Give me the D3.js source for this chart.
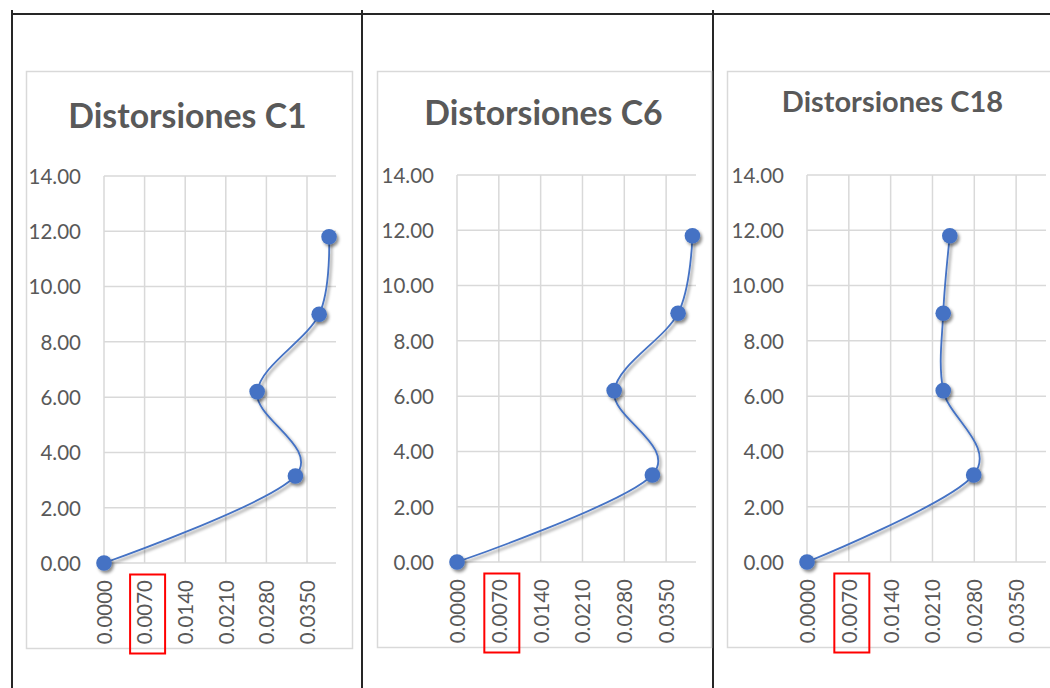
<!DOCTYPE html>
<html>
<head>
<meta charset="utf-8">
<script src="https://cdn.jsdelivr.net/npm/d3@7"></script>
<style>
  html, body { margin: 0; padding: 0; background: #fff; }
  svg { display: block; }
  .tick text { font-family: Lato, "Open Sans", sans-serif; fill: #595959; }
  .title { font-family: Lato, "Open Sans", sans-serif; font-weight: 700; fill: #595959; }
</style>
</head>
<body>
<svg id="chart" width="1050" height="688"></svg>
<script>
// Storey heights (m) shared by the three columns
const heights = [0, 3.15, 6.2, 9.0, 11.8];
// Inter-storey drift per column
const driftC1 = [0, 0.0330, 0.0264, 0.0371, 0.0388];
const driftC6 = [0, 0.0327, 0.0263, 0.0370, 0.0394];
const driftC18 = [0, 0.0279, 0.0228, 0.0228, 0.0239];
const titles = ["Distorsiones C1", "Distorsiones C6", "Distorsiones C18"];
const xTicks = [0, 0.007, 0.014, 0.021, 0.028, 0.035];
const yTicks = [0, 2, 4, 6, 8, 10, 12, 14];
const xMax = 0.04;
const yMax = 14;
const highlightTick = 0.007;

const series = [driftC1, driftC6, driftC18];

// Frame and plot-area geometry of each panel
const panels = [
  { frame: [26, 71, 326, 577], plot: [104, 176, 336, 563], title: [187.5, 128, 33.8] },
  { frame: [377, 71, 334, 576], plot: [457, 175, 696, 562], title: [543.5, 125, 33.8] },
  { frame: [727, 71, 340, 576], plot: [807, 175, 1046, 562], title: [892.5, 112, 29] }
];

const svg = d3.select("#chart");
const defs = svg.append("defs");
const f = defs.append("filter").attr("id", "shadow")
  .attr("x", "-50%").attr("y", "-50%").attr("width", "200%").attr("height", "200%");
f.append("feDropShadow").attr("dx", 2).attr("dy", 2.5).attr("stdDeviation", 1.8)
  .attr("flood-color", "#000").attr("flood-opacity", 0.45);

// Sheet borders around the three chart cells
const border = svg.append("g").attr("stroke", "#262626").attr("stroke-width", 2);
border.append("line").attr("x1", 11).attr("x2", 1050).attr("y1", 14).attr("y2", 14);
[12, 362, 713].forEach(x => {
  border.append("line").attr("x1", x).attr("x2", x).attr("y1", 10).attr("y2", 688);
});

const blue = "#4472C4";

panels.forEach((p, i) => {
  const g = svg.append("g");
  const [fx, fy, fw, fh] = p.frame;
  g.append("rect").attr("x", fx + 0.5).attr("y", fy + 0.5).attr("width", fw).attr("height", fh)
    .attr("fill", "#fff").attr("stroke", "#d9d9d9").attr("stroke-width", 1.5);

  const [x0, y0, x1, y1] = p.plot;
  const x = d3.scaleLinear().domain([0, xMax]).range([x0, x1]);
  const y = d3.scaleLinear().domain([0, yMax]).range([y1, y0]);

  // Gridlines
  const grid = g.append("g").attr("stroke", "#d9d9d9").attr("stroke-width", 1.5);
  grid.selectAll(".v").data(xTicks).join("line")
    .attr("x1", d => x(d)).attr("x2", d => x(d)).attr("y1", y(yMax)).attr("y2", y(0));
  grid.selectAll(".h").data(yTicks).join("line")
    .attr("x1", x(0)).attr("x2", x(xMax)).attr("y1", d => y(d)).attr("y2", d => y(d));

  // Y axis labels
  const yAxis = g.append("g").attr("transform", `translate(${x0},0)`)
    .call(d3.axisLeft(y).tickValues(yTicks).tickFormat(d3.format(".2f")).tickSize(0).tickPadding(23));
  yAxis.select(".domain").remove();
  yAxis.selectAll("text").attr("font-size", 20.5).attr("dy", "0.36em");

  // X axis labels, rotated
  const xAxis = g.append("g").attr("transform", `translate(0,${y1})`)
    .call(d3.axisBottom(x).tickValues(xTicks).tickFormat(d3.format(".4f")).tickSize(0));
  xAxis.select(".domain").remove();
  xAxis.selectAll("text")
    .attr("font-size", 20.5)
    .attr("transform", "rotate(-90)")
    .attr("text-anchor", "end")
    .attr("x", -17).attr("y", 0).attr("dy", "0.36em");

  // Title
  g.append("text").attr("class", "title")
    .attr("x", p.title[0]).attr("y", p.title[1])
    .attr("text-anchor", "middle").attr("font-size", p.title[2])
    .text(titles[i]);

  // Smoothed drift profile with markers
  const pts = series[i].map((d, k) => [d, heights[k]]);
  const line = d3.line().x(d => x(d[0])).y(d => y(d[1])).curve(d3.curveCatmullRom.alpha(0));
  const s = g.append("g");
  s.append("path").attr("d", line(pts)).attr("fill", "none")
    .attr("stroke", blue).attr("stroke-width", 1.8).attr("filter", "url(#shadow)");
  s.selectAll("circle").data(pts).join("circle")
    .attr("cx", d => x(d[0])).attr("cy", d => y(d[1])).attr("r", 7.8)
    .attr("fill", blue).attr("filter", "url(#shadow)");

  // Red box around the 0.0070 label
  g.append("rect")
    .attr("x", x(highlightTick) - 14.5).attr("y", y1 + 11.5)
    .attr("width", 35).attr("height", 79)
    .attr("fill", "none").attr("stroke", "#ff0000").attr("stroke-width", 2);
});
</script>
</body>
</html>
